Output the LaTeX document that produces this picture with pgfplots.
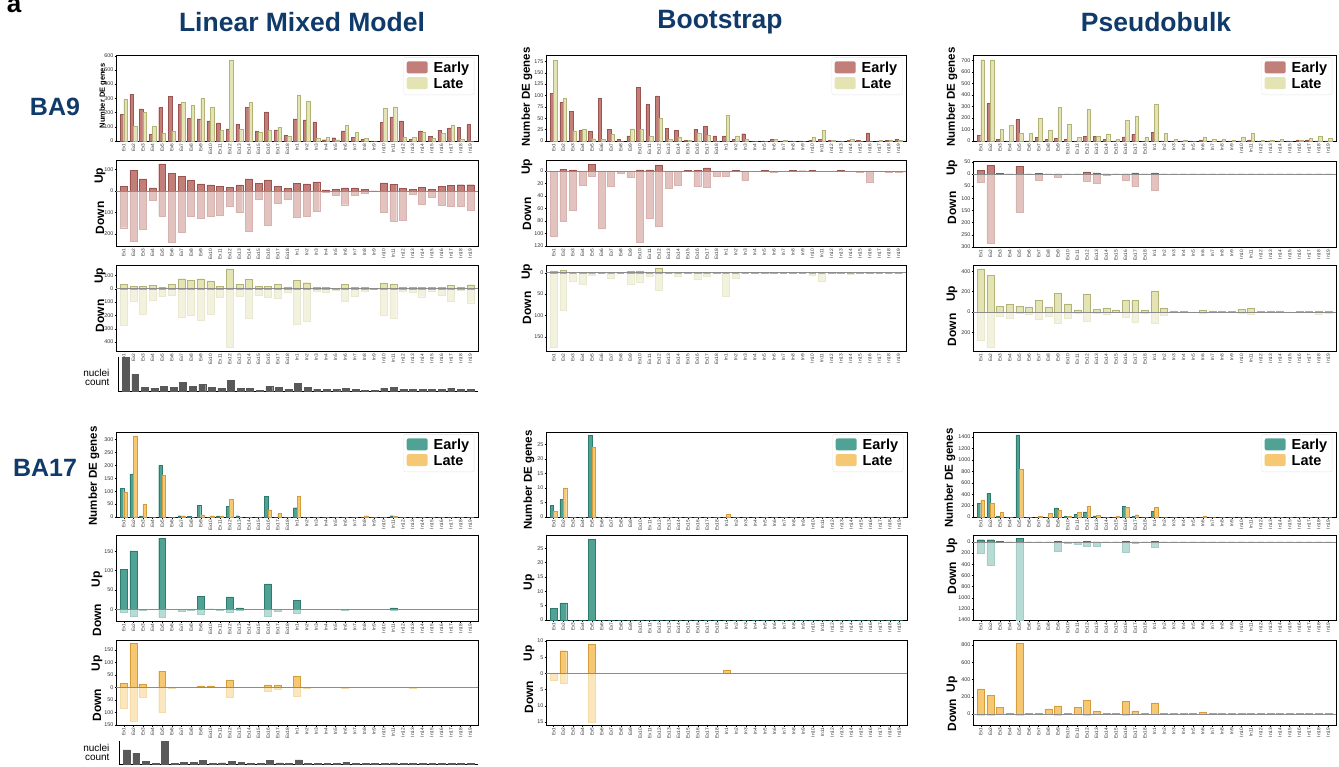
\documentclass[border=0pt]{standalone}
\usepackage{pgfplots}
\pgfplotsset{compat=1.18}
\usepackage{pgfplotstable}
\usepackage{fontspec}
\setmainfont{Liberation Sans}

\definecolor{navy}{HTML}{0F3A6A}
\definecolor{eA}{HTML}{C27F79}\definecolor{eAd}{HTML}{9A5550}\definecolor{eAl}{HTML}{E3C3BF}
\definecolor{lA}{HTML}{E3E3B4}\definecolor{lAd}{HTML}{B3B377}\definecolor{lAl}{HTML}{F2F2DE}
\definecolor{eB}{HTML}{50A394}\definecolor{eBd}{HTML}{2E7B6D}\definecolor{eBl}{HTML}{B8DCD5}
\definecolor{lB}{HTML}{F6C874}\definecolor{lBd}{HTML}{D49D3A}\definecolor{lBl}{HTML}{FBE6BE}
\definecolor{nuc}{HTML}{595959}
\definecolor{tk}{HTML}{333333}

% LMM BA9
\pgfplotstableread{
x e l eu ed lu ld
0 188 291 23 -171 33 -273
1 326 102 95 -236 18 -93
2 226 200 56 -180 18 -190
3 49 102 14 -45 25 -85
4 235 53 126 -116 8 -55
5 312 67 81 -240 33 -48
6 258 274 67 -194 75 -213
7 160 249 48 -119 63 -198
8 156 298 33 -127 75 -235
9 142 235 28 -119 58 -188
10 128 74 23 -112 18 -63
11 86 570 17 -73 148 -438
12 119 81 28 -98 33 -55
13 237 270 56 -189 68 -220
14 70 60 34 -40 18 -48
15 205 74 51 -161 18 -63
16 79 95 23 -59 33 -70
17 42 33 11 -40 13 -25
18 156 319 36 -122 63 -265
19 149 277 33 -119 45 -243
20 135 19 42 -96 8 -18
21 9 26 5 -8 8 -25
22 23 9 9 -19 5 -8
23 72 109 14 -64 33 -93
24 28 60 14 -22 8 -55
25 12 19 6 -11 8 -18
26 0 0 0 -3 3 -3
27 133 228 38 -100 43 -200
28 170 240 31 -141 35 -218
29 142 26 11 -135 13 -20
30 14 28 6 -14 8 -25
31 72 60 17 -60 8 -60
32 33 21 6 -28 8 -20
33 77 53 20 -65 8 -50
34 93 114 26 -70 23 -95
35 98 12 29 -70 8 -10
36 116 0 29 -90 30 -105
}\tA
% Bootstrap BA9
\pgfplotstableread{
x e l eu ed lu ld
0 105 178 0 -104 4 -175
1 85 93 3 -80 6 -88
2 65 22 2 -63 0 -21
3 23 25 0 -23 1 -27
4 21 5 11 -9 0 -5
5 93 3 0 -91 0 -2
6 25 14 0 -25 0 -14
7 4 0 0 -3 0 0
8 11 27 0 -10 3 -27
9 118 25 2 -114 4 -22
10 80 11 2 -76 0 -9
11 99 50 10 -89 10 -41
12 28 3 0 -28 0 -1
13 23 9 0 -22 0 -8
14 1 1 0.7 -0.5 1 0
15 26 18 0.7 -25 1 -16
16 32 12 5 -26 0 -9
17 11 0 0 -9 1 0
18 11 56 0 -9 0 -55
19 3 11 0.7 -0.5 0 -12
20 16 3 0 -15 0 -2
21 0 0 0 0 1 0
22 0 0 1 0 1 0
23 4 3 0 -2 1 0
24 0 2 0 0 0 0
25 0 0 1 0 1 0
26 0 0 0.5 0 0 0
27 2 9 1 0 1 -7
28 3 23 0 -1 0 -21
29 2 2 0 -1 1 0
30 0 0 1 0 1 0
31 2 4 0 0 0 -3
32 2 0 0 -2 1 0
33 18 0 0 -18 1 0
34 0 2 0 0 0 0
35 2 2 0 -2 0 -2
36 4 2 0 -2 0 -2
}\tB
% Pseudobulk BA9
\pgfplotstableread{
x e l eu ed lu ld
0 46 705 16 -36 423 -282
1 327 705 36 -285 361 -344
2 12 98 2 0 56 -46
3 0 136 0 0 75 -62
4 185 66 31 -156 56 -15
5 0 66 0 0 49 -26
6 32 197 3 -27 115 -75
7 12 92 0 0 49 -46
8 20 289 0 -15 180 -115
9 12 145 0 0 79 -66
10 0 32 0 0 20 -13
11 43 272 8 -31 174 -95
12 43 38 4 -40 26 -16
13 12 61 0 -5 39 -20
14 0 17 0 0 20 0
15 35 179 0 -27 115 -56
16 58 214 4 -52 115 -102
17 0 35 0 0 20 -13
18 75 318 4 -67 207 -111
19 0 66 0 0 39 -36
20 0 17 0 0 10 0
21 0 9 0 0 7 0
22 0 0 0 0 0 0
23 9 35 0 0 20 -10
24 0 17 0 0 10 0
25 0 17 0 0 10 0
26 0 5 0 0 3 0
27 0 35 0 0 26 -10
28 9 66 0 0 39 -26
29 0 9 0 0 7 0
30 0 9 0 0 10 0
31 0 17 0 0 10 0
32 0 0 0 0 0 0
33 9 9 0 0 7 0
34 9 20 0 0 7 0
35 0 41 0 0 10 -23
36 0 23 0 0 10 -13
}\tC
% LMM BA17
\pgfplotstableread{
x e l eu ed lu ld
0 112 97 104 -8 17 -84
1 167 314 151 -18 177 -136
2 4 50 0 -3 13 -40
3 0 0 0 0 1 0
4 200 163 183 -21 66 -100
5 0 0 0 0 2 -4
6 5 5 0 -4 2 0
7 3 0 0 -3 2 0
8 46 8 33 -13 7 0
9 0 5 1 0 7 0
10 4 4 0 -3 2 0
11 40 69 32 -8 31 -40
12 5 0 4 -2 1 0
13 0 0 0 0 1 0
14 0 0 0 0 0 0
15 81 28 66 -18 11 -16
16 0 14 0 -4 11 -7
17 0 0 0 0 1 0
18 36 82 24 -10 45 -35
19 0 0 0 0 0 -4
20 0 0 0 0 0 0
21 0 0 0 0 0 0
22 0 0 0 0 0 0
23 0 0 0 -3 0 -4
24 0 0 0 0 0 0
25 0 5 0 0 2 0
26 0 0 0 0 0 0
27 0 0 0 0 0 0
28 5 4 4 -3 2 0
29 0 0 0 0 0 0
30 0 0 0 0 0 -4
31 0 0 0 0 0 0
32 0 0 0 0 0 0
33 0 0 0 0 0 0
34 0 0 0 0 0 0
35 0 0 0 0 0 0
36 0 0 0 0 0 0
}\tD
% Bootstrap BA17
\pgfplotstableread{
x e l eu ed lu ld
0 4 2 4 0 0 -2
1 6 10 6 0 7 -3
2 0 0 0 0 0 0
3 0 0 0 0 0 0
4 28 24 28 0 9 -15
5 0 0 0 0 0 0
6 0 0 0 0 0 0
7 0 0 0 0 0 0
8 0 0 0 0 0 0
9 0 0 0 0 0 0
10 0 0 0 0 0 0
11 0 0 0 0 0 0
12 0 0 0 0 0 0
13 0 0 0 0 0 0
14 0 0 0 0 0 0
15 0 0 0 0 0 0
16 0 0 0 0 0 0
17 0 0 0 0 0 0
18 0 1 0 0 1 0
19 0 0 0 0 0 0
20 0 0 0 0 0 0
21 0 0 0 0 0 0
22 0 0 0 0 0 0
23 0 0 0 0 0 0
24 0 0 0 0 0 0
25 0 0 0 0 0 0
26 0 0 0 0 0 0
27 0 0 0 0 0 0
28 0 0 0 0 0 0
29 0 0 0 0 0 0
30 0 0 0 0 0 0
31 0 0 0 0 0 0
32 0 0 0 0 0 0
33 0 0 0 0 0 0
34 0 0 0 0 0 0
35 0 0 0 0 0 0
36 0 0 0 0 0 0
}\tE
% Pseudobulk BA17
\pgfplotstableread{
x e l eu ed lu ld
0 245 300 40 -200 290 -10
1 420 245 40 -420 220 -20
2 10 80 5 -10 80 -5
3 0 0 0 0 5 0
4 1440 840 60 -1400 820 -20
5 0 0 0 0 5 0
6 0 10 0 0 10 0
7 0 60 0 0 58 0
8 160 120 10 -160 93 -10
9 10 10 0 -30 10 0
10 50 80 0 -40 80 0
11 90 190 10 -70 162 -10
12 20 30 0 -70 35 0
13 0 0 0 0 5 0
14 0 10 0 0 10 0
15 190 175 10 -180 150 -10
16 10 40 0 -20 35 0
17 0 0 0 0 5 0
18 100 170 10 -90 128 -5
19 0 0 0 0 5 0
20 0 0 0 0 5 0
21 0 0 0 0 5 0
22 0 0 0 0 5 0
23 0 20 0 0 23 0
24 0 0 0 0 5 0
25 0 0 0 0 5 0
26 0 0 0 0 5 0
27 0 0 0 0 5 0
28 0 0 0 0 5 0
29 0 0 0 0 5 0
30 0 0 0 0 5 0
31 0 0 0 0 5 0
32 0 0 0 0 5 0
33 0 0 0 0 5 0
34 0 0 0 0 5 0
35 0 0 0 0 5 0
36 0 0 0 0 5 0
}\tF
% nuclei counts (relative)
\pgfplotstableread{
x a b
0 103 42
1 51 32
2 12 7
3 9 1
4 15 68
5 12 1
6 27 5
7 15 5
8 21 10
9 12 1
10 9 3
11 33 8
12 9 4
13 9 1
14 3 1
15 15 10
16 12 3
17 6 1
18 24 12
19 12 1
20 6 1
21 6 1
22 6 1
23 9 5
24 6 1
25 3 1
26 3 1
27 9 1
28 12 3
29 6 1
30 6 1
31 6 1
32 6 1
33 6 1
34 9 1
35 6 1
36 6 1
}\tN

\pgfplotsset{
 panel/.style={scale only axis, anchor=north west, xmin=-0.8, xmax=36.8, xtick={0,...,36},
   xticklabels={Ex1,Ex2,Ex3,Ex4,Ex5,Ex6,Ex7,Ex8,Ex9,Ex10,Ex11,Ex12,Ex13,Ex14,Ex15,Ex16,Ex17,Ex18,In1,In2,In3,In4,In5,In6,In7,In8,In9,In10,In11,In12,In13,In14,In15,In16,In17,In18,In19},
   tick align=outside, xtick pos=bottom, ytick pos=left, major tick length=1.5pt,
   every tick/.style={black, line width=0.4pt},
   x tick label style={rotate=90, anchor=east, font=\fontsize{4.8}{5}\selectfont, text=tk, inner sep=1pt},
   y tick label style={font=\fontsize{5.4}{6}\selectfont, text=tk, inner sep=1pt},
   axis line style={line width=0.9pt}, clip=false,
   /pgf/number format/assume math mode=true,
   /pgf/number format/1000 sep={}},
 lgd/.style={legend style={at={(0.99,0.975)}, anchor=north east, draw=black!10, rounded corners=2pt,
   font=\bfseries\fontsize{14.5}{15}\selectfont, row sep=0pt, column sep=4pt, inner sep=3pt},
   legend cell align=left,
   legend image code/.code={\draw[##1,/tikz/.cd,draw=none] (0pt,-5pt) rectangle (21pt,7pt);}},
 nucl/.style={scale only axis, anchor=north west, xmin=-0.8, xmax=36.8, ymin=0,
   axis x line*=bottom, axis y line*=left, xtick=\empty, ytick=\empty, axis line style={line width=0.7pt}},
 ebar/.style={ybar, bar width=0.36, bar shift=-0.18, line width=0.4pt},
 lbar/.style={ybar, bar width=0.36, bar shift=0.18, line width=0.4pt},
 sbar/.style={ybar, bar width=0.72, bar shift=0, line width=0.4pt},
 zl/.style={black!45, line width=0.5pt, forget plot},
}
\newcommand\ylab[4]{\node[rotate=90, font=\bfseries\fontsize{#3}{#3}\selectfont] at (#1pt,-#2pt) {#4};}

\begin{document}
\begin{tikzpicture}
\useasboundingbox (0,0) rectangle (1339pt,-767pt);

% ================= BA9 =================
% LMM
\begin{axis}[panel, lgd, at={(116pt,-55pt)}, width=362pt, height=86pt, ymin=0, ymax=605, ytick={0,100,...,600}]
\addplot[ebar, fill=eA, draw=eAd] table[x=x,y=e]{\tA};
\addplot[lbar, fill=lA, draw=lAd] table[x=x,y=l]{\tA};
\legend{Early,Late}
\end{axis}
\begin{axis}[panel, at={(116pt,-160pt)}, width=362pt, height=86pt, ymin=-256, ymax=144, ytick={-200,-100,0,100}, yticklabels={200,100,0,100}]
\addplot[sbar, fill=eAl, draw=eAl!85!eAd] table[x=x,y=ed]{\tA};
\addplot[sbar, fill=eA, draw=eAd] table[x=x,y=eu]{\tA};
\addplot[zl] coordinates {(-0.8,0) (36.8,0)};
\end{axis}
\begin{axis}[panel, at={(116pt,-265pt)}, width=362pt, height=86pt, ymin=-467, ymax=178, ytick={-400,-300,-200,-100,0,100}, yticklabels={400,300,200,100,0,100}]
\addplot[sbar, fill=lAl, draw=lAl!85!lAd] table[x=x,y=ld]{\tA};
\addplot[sbar, fill=lA, draw=lAd] table[x=x,y=lu]{\tA};
\addplot[zl] coordinates {(-0.8,0) (36.8,0)};
\end{axis}
\begin{axis}[nucl, at={(118pt,-357pt)}, width=360pt, height=34pt, ymax=104]
\addplot[sbar, fill=nuc, draw=nuc] table[x=x,y=a]{\tN};
\end{axis}
% Bootstrap
\begin{axis}[panel, lgd, at={(546pt,-55pt)}, width=360pt, height=86pt, ymin=0, ymax=189, ytick={0,25,...,175}]
\addplot[ebar, fill=eA, draw=eAd] table[x=x,y=e]{\tB};
\addplot[lbar, fill=lA, draw=lAd] table[x=x,y=l]{\tB};
\legend{Early,Late}
\end{axis}
\begin{axis}[panel, at={(546pt,-160pt)}, width=360pt, height=86pt, ymin=-120, ymax=17.7, ytick={-120,-100,...,0}, yticklabels={120,100,80,60,40,20,0}]
\addplot[sbar, fill=eAl, draw=eAl!85!eAd] table[x=x,y=ed]{\tB};
\addplot[sbar, fill=eA, draw=eAd] table[x=x,y=eu]{\tB};
\addplot[zl] coordinates {(-0.8,0) (36.8,0)};
\end{axis}
\begin{axis}[panel, at={(546pt,-265pt)}, width=360pt, height=86pt, ymin=-183, ymax=18, ytick={-150,-100,-50,0}, yticklabels={150,100,50,0}]
\addplot[sbar, fill=lAl, draw=lAl!85!lAd] table[x=x,y=ld]{\tB};
\addplot[sbar, fill=lA, draw=lAd] table[x=x,y=lu]{\tB};
\addplot[zl] coordinates {(-0.8,0) (36.8,0)};
\end{axis}
% Pseudobulk
\begin{axis}[panel, lgd, at={(973pt,-55pt)}, width=363pt, height=86pt, ymin=0, ymax=746, ytick={0,100,...,700}]
\addplot[ebar, fill=eA, draw=eAd] table[x=x,y=e]{\tC};
\addplot[lbar, fill=lA, draw=lAd] table[x=x,y=l]{\tC};
\legend{Early,Late}
\end{axis}
\begin{axis}[panel, at={(973pt,-161pt)}, width=363pt, height=86pt, ymin=-300, ymax=53, ytick={-300,-250,...,50}, yticklabels={300,250,200,150,100,50,0,50}]
\addplot[sbar, fill=eAl, draw=eAl!85!eAd] table[x=x,y=ed]{\tC};
\addplot[sbar, fill=eA, draw=eAd] table[x=x,y=eu]{\tC};
\addplot[zl] coordinates {(-0.8,0) (36.8,0)};
\end{axis}
\begin{axis}[panel, at={(973pt,-265pt)}, width=363pt, height=86pt, ymin=-384, ymax=462, ytick={-200,0,200,400}, yticklabels={200,0,200,400}]
\addplot[sbar, fill=lAl, draw=lAl!85!lAd] table[x=x,y=ld]{\tC};
\addplot[sbar, fill=lA, draw=lAd] table[x=x,y=lu]{\tC};
\addplot[zl] coordinates {(-0.8,0) (36.8,0)};
\end{axis}

% ================= BA17 =================
% LMM
\begin{axis}[panel, lgd, at={(116pt,-432pt)}, width=362pt, height=85pt, ymin=0, ymax=329, ytick={0,50,...,300}]
\addplot[ebar, fill=eB, draw=eBd] table[x=x,y=e]{\tD};
\addplot[lbar, fill=lB, draw=lBd] table[x=x,y=l]{\tD};
\legend{Early,Late}
\end{axis}
\begin{axis}[panel, at={(116pt,-535pt)}, width=362pt, height=86pt, ymin=-30, ymax=192, ytick={0,50,100,150}]
\addplot[sbar, fill=eBl, draw=eBl!85!eBd] table[x=x,y=ed]{\tD};
\addplot[sbar, fill=eB, draw=eBd] table[x=x,y=eu]{\tD};
\addplot[zl] coordinates {(-0.8,0) (36.8,0)};
\end{axis}
\begin{axis}[panel, at={(116pt,-640pt)}, width=362pt, height=85pt, ymin=-150, ymax=190, ytick={-150,-100,...,150}, yticklabels={150,100,50,0,50,100,150}]
\addplot[sbar, fill=lBl, draw=lBl!85!lBd] table[x=x,y=ld]{\tD};
\addplot[sbar, fill=lB, draw=lBd] table[x=x,y=lu]{\tD};
\addplot[zl] coordinates {(-0.8,0) (36.8,0)};
\end{axis}
\begin{axis}[nucl, at={(119pt,-741pt)}, width=359pt, height=23pt, ymax=68]
\addplot[sbar, fill=nuc, draw=nuc] table[x=x,y=b]{\tN};
\end{axis}
% Bootstrap
\begin{axis}[panel, lgd, at={(546pt,-432pt)}, width=361pt, height=85pt, ymin=0, ymax=29.2, ytick={0,5,...,25}]
\addplot[ebar, fill=eB, draw=eBd] table[x=x,y=e]{\tE};
\addplot[lbar, fill=lB, draw=lBd] table[x=x,y=l]{\tE};
\legend{Early,Late}
\end{axis}
\begin{axis}[panel, at={(546pt,-535pt)}, width=361pt, height=85pt, ymin=0, ymax=29.6, ytick={0,5,...,25}]
\addplot[sbar, fill=eB, draw=eBd] table[x=x,y=eu]{\tE};
\end{axis}
\begin{axis}[panel, at={(546pt,-640pt)}, width=361pt, height=85pt, ymin=-15.9, ymax=10.3, ytick={-15,-10,...,10}, yticklabels={15,10,5,0,5,10}]
\addplot[sbar, fill=lBl, draw=lBl!85!lBd] table[x=x,y=ld]{\tE};
\addplot[sbar, fill=lB, draw=lBd] table[x=x,y=lu]{\tE};
\addplot[zl] coordinates {(-0.8,0) (36.8,0)};
\end{axis}
% Pseudobulk
\begin{axis}[panel, lgd, at={(973pt,-432pt)}, width=363pt, height=85pt, ymin=0, ymax=1490, ytick={0,200,...,1400}]
\addplot[ebar, fill=eB, draw=eBd] table[x=x,y=e]{\tF};
\addplot[lbar, fill=lB, draw=lBd] table[x=x,y=l]{\tF};
\legend{Early,Late}
\end{axis}
\begin{axis}[panel, at={(973pt,-535pt)}, width=363pt, height=85pt, ymin=-1400, ymax=125, ytick={-1400,-1200,...,0}, yticklabels={1400,1200,1000,800,600,400,200,0}]
\addplot[sbar, fill=eBl, draw=eBl!85!eBd] table[x=x,y=ed]{\tF};
\addplot[sbar, fill=eB, draw=eBd] table[x=x,y=eu]{\tF};
\addplot[zl] coordinates {(-0.8,0) (36.8,0)};
\end{axis}
\begin{axis}[panel, at={(973pt,-640pt)}, width=363pt, height=85pt, ymin=-128, ymax=858, ytick={0,200,...,800}]
\addplot[sbar, fill=lBl, draw=lBl!85!lBd] table[x=x,y=ld]{\tF};
\addplot[sbar, fill=lB, draw=lBd] table[x=x,y=lu]{\tF};
\addplot[zl] coordinates {(-0.8,0) (36.8,0)};
\end{axis}

% ================= titles and labels =================
\node[font=\bfseries\fontsize{26}{26}\selectfont] at (14pt,-6pt) {a};
\node[font=\bfseries\fontsize{26.5}{26.5}\selectfont, text=navy] at (302pt,-22pt) {Linear Mixed Model};
\node[font=\bfseries\fontsize{26.5}{26.5}\selectfont, text=navy] at (720pt,-22pt) {Bootstrap};
\node[font=\bfseries\fontsize{26.5}{26.5}\selectfont, text=navy] at (1156pt,-22pt) {Pseudobulk};
\node[font=\bfseries\fontsize{25}{25}\selectfont, text=navy] at (55pt,-107pt) {BA9};
\node[font=\bfseries\fontsize{25}{25}\selectfont, text=navy] at (45pt,-468pt) {BA17};

% BA9 y labels
\ylab{103}{96}{7.5}{Number DE genes}
\ylab{100}{176}{12}{Up}
\ylab{100}{218}{12}{Down}
\ylab{100}{276}{12}{Up}
\ylab{100}{316}{12}{Down}
\node[align=right, anchor=east, font=\fontsize{10}{9}\selectfont] at (113pt,-377pt) {nuclei\\count};
\ylab{527}{97}{11.5}{Number DE genes}
\ylab{527}{167}{12}{Up}
\ylab{527}{214}{12}{Down}
\ylab{527}{272}{12}{Up}
\ylab{527}{308}{12}{Down}
\ylab{952}{97}{11.5}{Number DE genes}
\ylab{952}{168}{12}{Up}
\ylab{952}{208}{12}{Down}
\ylab{952}{294}{12}{Up}
\ylab{952}{330}{12}{Down}
% BA17 y labels
\ylab{94}{476}{11.5}{Number DE genes}
\ylab{97}{579}{12}{Up}
\ylab{97}{620}{12}{Down}
\ylab{97}{663}{12}{Up}
\ylab{97}{705}{12}{Down}
\node[align=right, anchor=east, font=\fontsize{10}{9}\selectfont] at (113pt,-752pt) {nuclei\\count};
\ylab{529}{480}{11.5}{Number DE genes}
\ylab{529}{582}{12}{Up}
\ylab{529}{653}{12}{Up}
\ylab{529}{697}{12}{Down}
\ylab{950}{478}{11.5}{Number DE genes}
\ylab{952}{546}{12}{Up}
\ylab{952}{578}{12}{Down}
\ylab{952}{684}{12}{Up}
\ylab{952}{715}{12}{Down}
\end{tikzpicture}
\end{document}
